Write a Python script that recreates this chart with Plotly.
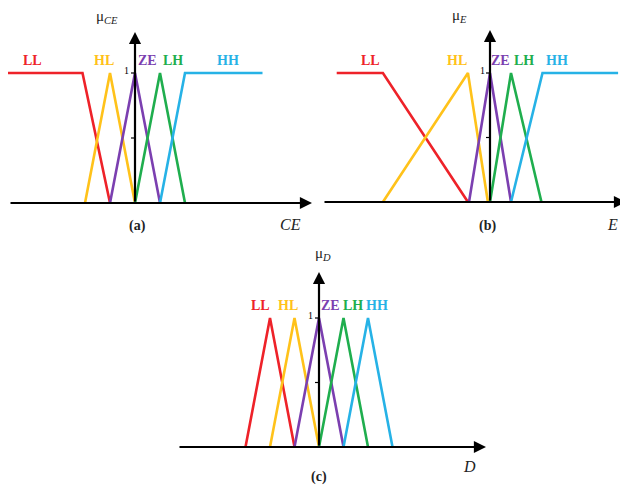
import plotly.graph_objects as go

OFF = 8                      # page body margin in the browser
W, H = 628 - OFF, 485 - OFF  # figure size so that it fits the window

# ---- data (membership function breakpoints, in each panel's own units) ----
labels = ["LL", "HL", "ZE", "LH", "HH"]
colors = ["#ee2229", "#ffc21a", "#7b3fb0", "#1fae4e", "#26b2e6"]

# panel (a): CE
a_x = [[-5.1, -2.1, -1.0], [-2.0, -1.0, 0.0], [-1.0, 0.0, 1.0], [0.0, 1.0, 2.0], [1.0, 2.0, 5.1]]
a_y = [[1, 1, 0], [0, 1, 0], [0, 1, 0], [0, 1, 0], [0, 1, 1]]
# panel (b): E
b_x = [[-7.3, -5.1, -1.05], [-5.1, -1.05, -0.1], [-1.0, 0.0, 1.0], [0.0, 1.0, 2.45], [1.0, 2.5, 6.1]]
b_y = [[1, 1, 0], [0, 1, 0], [0, 1, 0], [0, 1, 0], [0, 1, 1]]
# panel (c): D
c_x = [[-3.0, -2.0, -1.0], [-2.0, -1.0, 0.0], [-1.0, 0.0, 1.0], [0.0, 1.0, 2.0], [1.0, 2.0, 3.0]]
c_y = [[0, 1, 0], [0, 1, 0], [0, 1, 0], [0, 1, 0], [0, 1, 0]]

# label positions (data coords)
a_lab = [(-4.1, 1.1), (-1.25, 1.1), (0.5, 1.1), (1.5, 1.1), (3.7, 1.1)]
b_lab = [(-5.7, 1.1), (-1.55, 1.1), (0.5, 1.1), (1.6, 1.1), (3.2, 1.1)]
c_lab = [(-2.4, 1.1), (-1.25, 1.1), (0.45, 1.1), (1.4, 1.1), (2.35, 1.1)]

# ---- panel geometry in screen pixels ----
panels = {
    "a": dict(xd=(OFF, 314), yd=(OFF, 242), ox=135, ux=25.0, oy=203, uy=130.0,
              xs=OFF + 1, xe=312, ytop=32, ylab="μ<sub><i>CE</i></sub>", ylx=107, yly=17,
              xlab="<i>CE</i>", xlx=290, xly=224, plab="(a)", plx=137, ply=226,
              onex=126, data=(a_x, a_y, a_lab)),
    "b": dict(xd=(314, 628), yd=(OFF, 242), ox=490, ux=21.0, oy=202, uy=129.0,
              xs=323, xe=626, ytop=30, ylab="μ<sub><i>E</i></sub>", ylx=459, yly=16,
              xlab="<i>E</i>", xlx=612, xly=224, plab="(b)", plx=487, ply=226,
              onex=482, data=(b_x, b_y, b_lab)),
    "c": dict(xd=(OFF, 628), yd=(242, 485), ox=319, ux=24.5, oy=447, uy=129.0,
              xs=178, xe=486, ytop=272, ylab="μ<sub><i>D</i></sub>", ylx=323, yly=254,
              xlab="<i>D</i>", xlx=469, xly=466, plab="(c)", plx=319, ply=477,
              onex=310, data=(c_x, c_y, c_lab)),
}

fig = go.Figure()
layout = dict(width=W, height=H, margin=dict(l=0, r=0, t=0, b=0),
              plot_bgcolor="white", paper_bgcolor="white", showlegend=False)
annotations = []
shapes = []
serif = "Liberation Serif"

for i, (k, p) in enumerate(panels.items()):
    n = "" if i == 0 else str(i + 1)
    xa, ya = "x" + n, "y" + n
    x0p, x1p = p["xd"]
    y0p, y1p = p["yd"]
    xr = [(x0p - p["ox"]) / p["ux"], (x1p - p["ox"]) / p["ux"]]
    yr = [(p["oy"] - y1p) / p["uy"], (p["oy"] - y0p) / p["uy"]]
    ax = dict(range=xr, domain=[(x0p - OFF) / W, (x1p - OFF) / W], visible=False, fixedrange=True)
    ay = dict(range=yr, domain=[1 - (y1p - OFF) / H, 1 - (y0p - OFF) / H], visible=False, fixedrange=True)
    layout["xaxis" + n] = dict(ax, anchor=ya)
    layout["yaxis" + n] = dict(ay, anchor=xa)

    def px2x(v, p=p):
        return (v - p["ox"]) / p["ux"]

    def px2y(v, p=p):
        return (p["oy"] - v) / p["uy"]

    xs_, ys_, labs = p["data"]
    for j in range(5):
        fig.add_trace(go.Scatter(x=xs_[j], y=ys_[j], mode="lines", xaxis=xa, yaxis=ya,
                                 line=dict(color=colors[j], width=2.6), hoverinfo="skip"))
        annotations.append(dict(x=labs[j][0], y=labs[j][1], xref=xa, yref=ya, text="<b>" + labels[j] + "</b>",
                                showarrow=False, font=dict(family=serif, size=14, color=colors[j])))

    # x axis arrow
    annotations.append(dict(x=px2x(p["xe"]), y=0, ax=px2x(p["xs"]), ay=0, xref=xa, yref=ya,
                            axref=xa, ayref=ya, text="", showarrow=True, arrowhead=2,
                            arrowsize=1.1, arrowwidth=2.2, arrowcolor="black"))
    # y axis arrow
    annotations.append(dict(x=0, y=px2y(p["ytop"]), ax=0, ay=0, xref=xa, yref=ya,
                            axref=xa, ayref=ya, text="", showarrow=True, arrowhead=2,
                            arrowsize=1.1, arrowwidth=2.2, arrowcolor="black"))
    # ticks at 1 and 0.5
    for tv in (1.0, 0.5):
        shapes.append(dict(type="line", xref=xa, yref=ya, x0=px2x(p["ox"] - 4), x1=0, y0=tv, y1=tv,
                           line=dict(color="black", width=1.2)))
    annotations.append(dict(x=px2x(p["onex"]), y=1.02, xref=xa, yref=ya, text="1", showarrow=False,
                            font=dict(family=serif, size=10, color="black")))
    # texts
    annotations.append(dict(x=px2x(p["ylx"]), y=px2y(p["yly"]), xref=xa, yref=ya, text=p["ylab"],
                            showarrow=False, font=dict(family=serif, size=15, color="#222")))
    annotations.append(dict(x=px2x(p["xlx"]), y=px2y(p["xly"]), xref=xa, yref=ya, text=p["xlab"],
                            showarrow=False, font=dict(family=serif, size=16, color="#222")))
    annotations.append(dict(x=px2x(p["plx"]), y=px2y(p["ply"]), xref=xa, yref=ya, text="<b>" + p["plab"] + "</b>",
                            showarrow=False, font=dict(family=serif, size=14, color="#222")))

layout["annotations"] = annotations
layout["shapes"] = shapes
fig.update_layout(**layout)
fig.write_html("out.html")
